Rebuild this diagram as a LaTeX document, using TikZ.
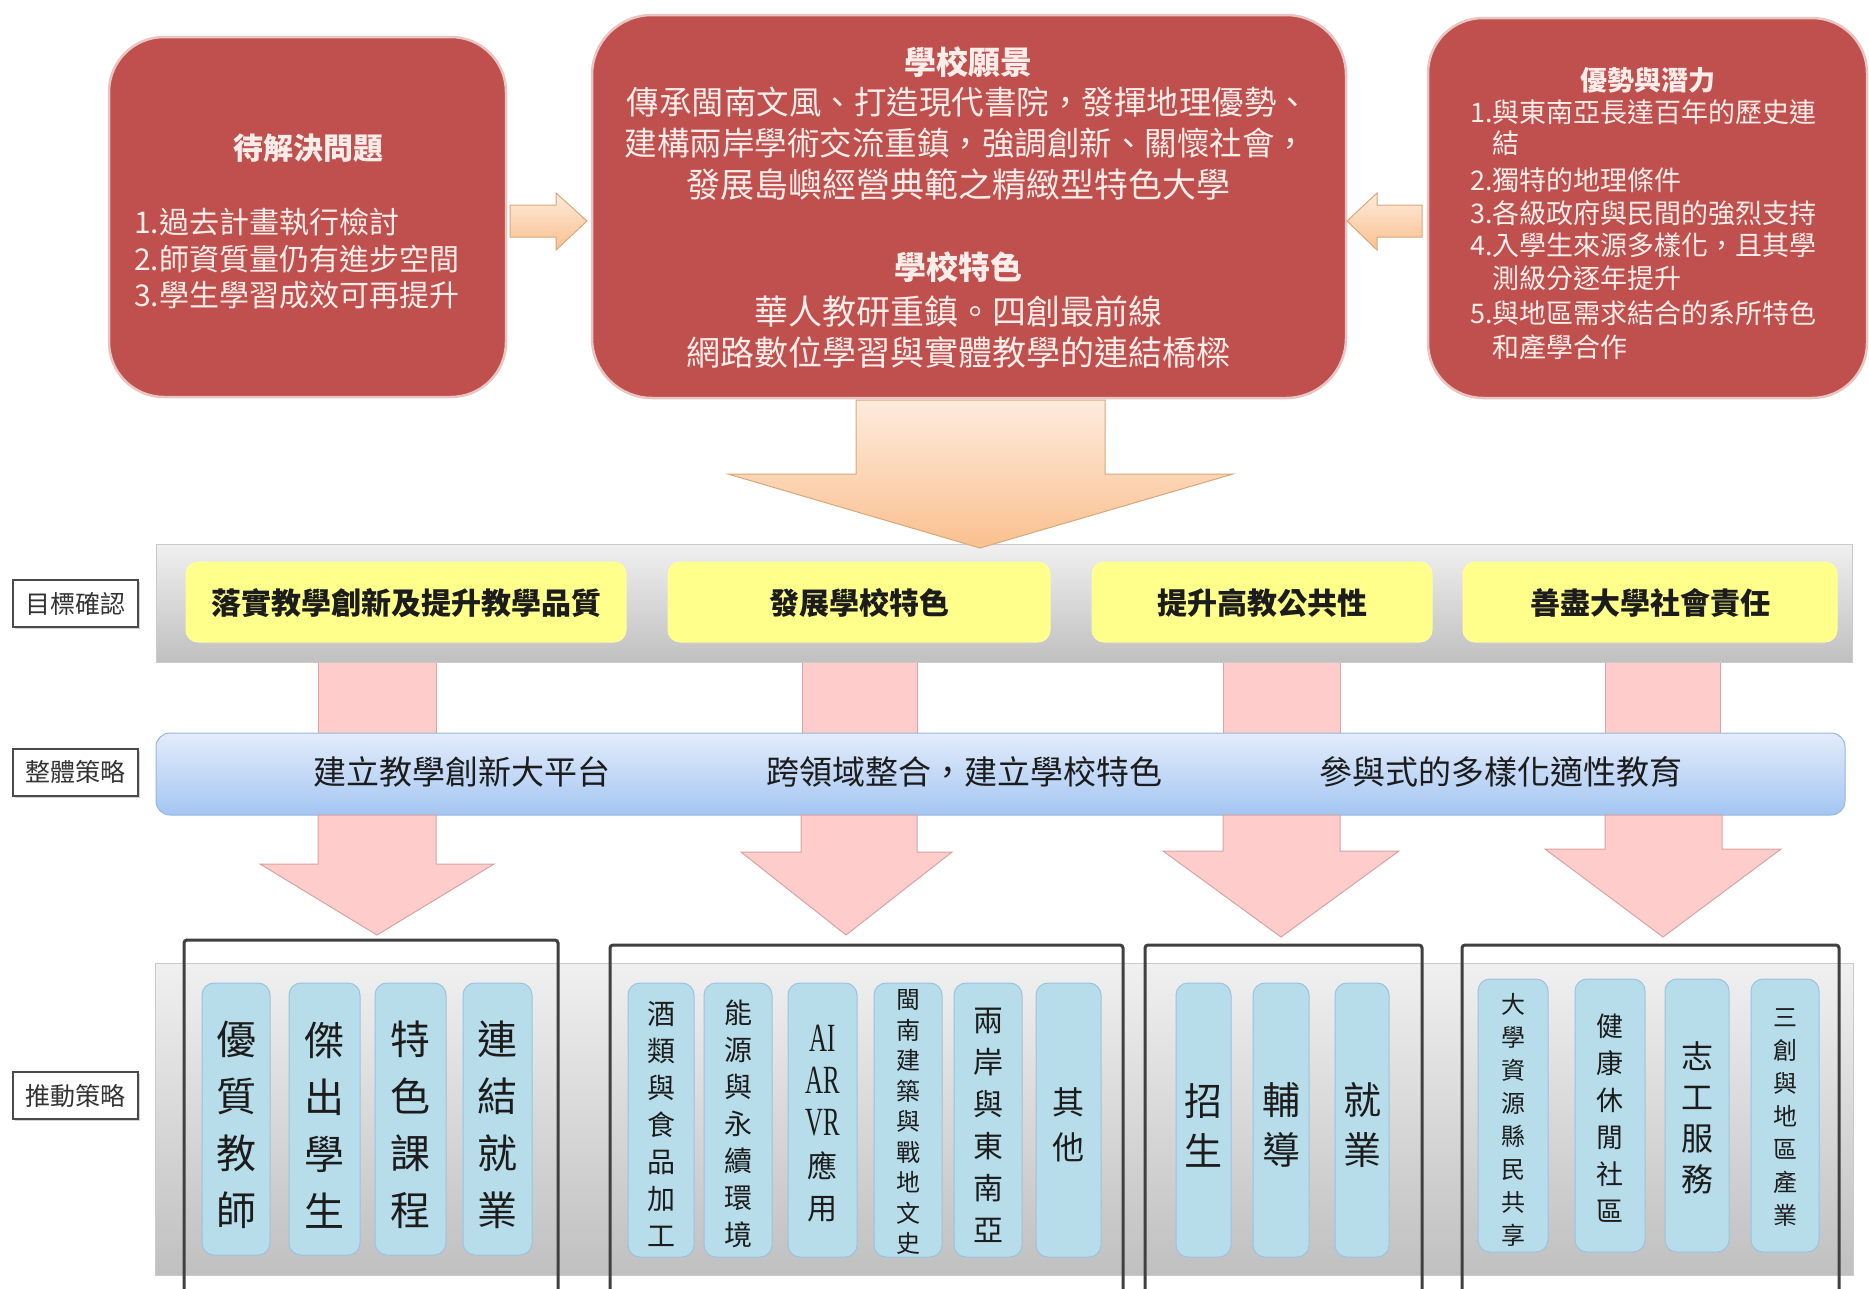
\documentclass[tikz,border=0pt]{standalone}
\usepackage{fontspec}
\setmainfont{Noto Sans CJK TC}
\newfontfamily\latinserif{Liberation Serif}
\usetikzlibrary{shadows}
\definecolor{redfill}{HTML}{C0504D}
\definecolor{redborder}{HTML}{E8C4C2}
\definecolor{redtext}{HTML}{FCEDEA}
\definecolor{orTop}{HTML}{FDEBDD}
\definecolor{orBot}{HTML}{FAC08F}
\definecolor{orBorder}{HTML}{D9A878}
\definecolor{pinkfill}{HTML}{FFCCCC}
\definecolor{pinkborder}{HTML}{D9A3A3}
\definecolor{yel}{HTML}{FFFF8C}
\definecolor{bluTop}{HTML}{E3ECFB}
\definecolor{bluBot}{HTML}{A4C6F2}
\definecolor{bluBorder}{HTML}{94B6E0}
\definecolor{grTop}{HTML}{F0F0F0}
\definecolor{grBot}{HTML}{C0C0C0}
\definecolor{grBorder}{HTML}{CACACA}
\definecolor{pillc}{HTML}{B8DDEA}
\definecolor{pillb}{HTML}{9CC2E2}
\definecolor{framec}{HTML}{404040}
\definecolor{lblborder}{HTML}{4A4A4A}
\definecolor{ink}{HTML}{1C1C1C}
\newcommand\myfs[2]{\fontsize{#1pt}{#2pt}\selectfont}

\begin{document}
\begin{tikzpicture}[x=1pt,y=-1pt,
  redbox/.style={fill=redfill, draw=redborder, line width=2.5pt, rounded corners=55pt},
  redtxt/.style={text=redtext, inner sep=0pt},
  rline/.style={redtxt, anchor=west, font=\myfs{27}{33}},
  orarrow/.style={top color=orTop, bottom color=orBot, draw=orBorder, line width=1pt},
  pinkarrow/.style={fill=pinkfill, draw=pinkborder, line width=1pt},
  grayband/.style={top color=grTop, bottom color=grBot, draw=grBorder, line width=1pt},
  yelbox/.style={fill=yel, draw=yel!85!white, line width=1pt, rounded corners=12pt},
  yeltxt/.style={inner sep=0pt, text=ink, font=\bfseries\myfs{30}{34}},
  bluband/.style={top color=bluTop, bottom color=bluBot, draw=bluBorder, line width=1pt, rounded corners=14pt},
  blutxt/.style={inner sep=0pt, text=ink, font=\myfs{33}{36}},
  lbl/.style={draw=lblborder, line width=2pt, fill=white, minimum width=125pt, minimum height=47pt,
    inner sep=0pt, text=black!80, font=\myfs{25}{28},
    drop shadow={shadow xshift=2pt, shadow yshift=-2pt, opacity=0.35}},
  pill/.style={fill=pillc, draw=pillb, line width=1pt, rounded corners=12pt, inner sep=0pt},
  vt/.style={align=center, inner sep=0pt, text=ink},
  framebox/.style={draw=framec, line width=3pt, rounded corners=3pt}
]
\useasboundingbox (0,0) rectangle (1869,1288);
\clip (0,0) rectangle (1869,1288);
\fill[white] (0,0) rectangle (1869,1288);

% ---------- upper pink shafts (behind bands)
\foreach \a/\b in {318/436, 802/917, 1223/1340, 1605/1720}
  \draw[pinkarrow] (\a,655) rectangle (\b,740);

% ---------- goal band
\draw[grayband] (156,544) rectangle (1852,662);
\draw[yelbox] (186,562) rectangle (626,642);
\draw[yelbox] (668,562) rectangle (1050,642);
\draw[yelbox] (1092,562) rectangle (1432,642);
\draw[yelbox] (1463,562) rectangle (1837,642);
\node[yeltxt] (y1) at (406,603) {落實教學創新及提升教學品質};
\node[yeltxt] (y2) at (859,603) {發展學校特色};
\node[yeltxt] (y3) at (1262,603) {提升高教公共性};
\node[yeltxt] (y4) at (1650,603) {善盡大學社會責任};

% ---------- strategy band
\draw[bluband] (156,733) rectangle (1845,815);
\node[blutxt] (b1) at (462,772) {建立教學創新大平台};
\node[blutxt] (b2) at (964,772) {跨領域整合，建立學校特色};
\node[blutxt] (b3) at (1501,772) {參與式的多樣化適性教育};

% ---------- row labels
\node[lbl] (lab1) at (75.5,603.5) {目標確認};
\node[lbl] (lab2) at (75.5,772) {整體策略};
\node[lbl] (lab3) at (75.5,1095.5) {推動策略};

% ---------- lower pink arrows
\draw[pinkarrow] (318,815)--(436,815)--(436,864)--(494,864)--(377,935)--(260,864)--(318,864)--cycle;
\draw[pinkarrow] (801,815)--(917,815)--(917,852)--(952,852)--(846,935)--(741,852)--(801,852)--cycle;
\draw[pinkarrow] (1223,815)--(1340,815)--(1340,851)--(1399,851)--(1281,937)--(1163,851)--(1223,851)--cycle;
\draw[pinkarrow] (1605,815)--(1722,815)--(1722,849)--(1781,849)--(1663,937)--(1545,849)--(1605,849)--cycle;

% ---------- action band
\draw[grayband] (155,963) rectangle (1853,1275);

% pills group 1
\node[pill, minimum width=68pt, minimum height=272pt] (p11) at (236,1119) {};
\node[pill, minimum width=71pt, minimum height=272pt] (p12) at (324.5,1119) {};
\node[pill, minimum width=71pt, minimum height=272pt] (p13) at (410.5,1119) {};
\node[pill, minimum width=69pt, minimum height=272pt] (p14) at (497.5,1119) {};
\node[vt, font=\myfs{40}{57}] (t11) at (236,1125) {優\\質\\教\\師};
\node[vt, font=\myfs{40}{57}] (t12) at (324.5,1125) {傑\\出\\學\\生};
\node[vt, font=\myfs{40}{57}] (t13) at (410.5,1125) {特\\色\\課\\程};
\node[vt, font=\myfs{40}{57}] (t14) at (497.5,1125) {連\\結\\就\\業};

% pills group 2
\node[pill, minimum width=66pt, minimum height=274pt] (p21) at (661,1120) {};
\node[pill, minimum width=68pt, minimum height=274pt] (p22) at (738,1120) {};
\node[pill, minimum width=69pt, minimum height=274pt] (p23) at (822.5,1120) {};
\node[pill, minimum width=68pt, minimum height=274pt] (p24) at (908,1120) {};
\node[pill, minimum width=68pt, minimum height=274pt] (p25) at (988,1120) {};
\node[pill, minimum width=65pt, minimum height=274pt] (p26) at (1068.5,1120) {};
\node[vt, font=\myfs{28}{37}] (t21) at (661,1124) {酒\\類\\與\\食\\品\\加\\工};
\node[vt, font=\myfs{28}{37}] (t22) at (738,1124) {能\\源\\與\\永\\續\\環\\境};
\node[vt, font=\myfs{30}{42}] (t23) at (822.5,1124) {{\latinserif\fontsize{40pt}{42pt}\selectfont\scalebox{0.62}[1]{AI}}\\{\latinserif\fontsize{40pt}{42pt}\selectfont\scalebox{0.62}[1]{AR}}\\{\latinserif\fontsize{40pt}{42pt}\selectfont\scalebox{0.62}[1]{VR}}\\應\\用};
\node[vt, font=\myfs{24}{30.5}] (t24) at (908,1122) {閩\\南\\建\\築\\與\\戰\\地\\文\\史};
\node[vt, font=\myfs{30}{42}] (t25) at (988,1125) {兩\\岸\\與\\東\\南\\亞};
\node[vt, font=\myfs{32}{45}] (t26) at (1068.5,1125) {其\\他};

% pills group 3
\node[pill, minimum width=55pt, minimum height=274pt] (p31) at (1203.5,1120) {};
\node[pill, minimum width=56pt, minimum height=274pt] (p32) at (1281,1120) {};
\node[pill, minimum width=54pt, minimum height=274pt] (p33) at (1362,1120) {};
\node[vt, font=\myfs{38}{50}] (t31) at (1203.5,1125) {招\\生};
\node[vt, font=\myfs{38}{50}] (t32) at (1281,1125) {輔\\導};
\node[vt, font=\myfs{38}{50}] (t33) at (1362,1125) {就\\業};

% pills group 4
\node[pill, minimum width=70pt, minimum height=273pt] (p41) at (1513,1115.5) {};
\node[pill, minimum width=70pt, minimum height=273pt] (p42) at (1610,1115.5) {};
\node[pill, minimum width=64pt, minimum height=273pt] (p43) at (1697,1115.5) {};
\node[pill, minimum width=68pt, minimum height=273pt] (p44) at (1785,1115.5) {};
\node[vt, font=\myfs{24}{33}] (t41) at (1513,1120) {大\\學\\資\\源\\縣\\民\\共\\享};
\node[vt, font=\myfs{27}{37}] (t42) at (1610,1118) {健\\康\\休\\閒\\社\\區};
\node[vt, font=\myfs{32}{41}] (t43) at (1697,1118) {志\\工\\服\\務};
\node[vt, font=\myfs{24}{33}] (t44) at (1785,1118) {三\\創\\與\\地\\區\\產\\業};

% framed groups
\draw[framebox] (184,940) rectangle (558,1310);
\draw[framebox] (610,945) rectangle (1123,1310);
\draw[framebox] (1145,945) rectangle (1422,1310);
\draw[framebox] (1462,945) rectangle (1839,1310);

% ---------- top red boxes
\draw[redbox] (109,37) rectangle (506,397);
\draw[redbox, rounded corners=60pt] (592,15) rectangle (1346,398);
\draw[redbox] (1428,18) rectangle (1867,398);

% left box text
\node[redtxt, font=\bfseries\myfs{30}{36}] (lt) at (308,148) {待解決問題};
\node[redtxt, anchor=west, align=left, font=\myfs{30}{36.5}] (ll) at (134,259)
  {1.過去計畫執行檢討\\2.師資質量仍有進步空間\\3.學生學習成效可再提升};

% centre box text
\node[redtxt, font=\bfseries\myfs{32}{36}] (c1) at (968,62) {學校願景};
\node[redtxt, font=\myfs{32.5}{36}] (c2) at (968,102) {傳承閩南文風、打造現代書院，發揮地理優勢、};
\node[redtxt, font=\myfs{32.5}{36}] (c3) at (966,143) {建構兩岸學術交流重鎮，強調創新、關懷社會，};
\node[redtxt, font=\myfs{34}{36}] (c4) at (958,185) {發展島嶼經營典範之精緻型特色大學};
\node[redtxt, font=\bfseries\myfs{32}{36}] (c5) at (958,267) {學校特色};
\node[redtxt, font=\myfs{34}{36}] (c6) at (958,312) {華人教研重鎮。四創最前線};
\node[redtxt, font=\myfs{34}{36}] (c7) at (958,352) {網路數位學習與實體教學的連結橋樑};

% right box text
\node[redtxt, font=\bfseries\myfs{27}{33}] (rt) at (1648,80) {優勢與潛力};
\node[rline] (r1) at (1470,112) {1.與東南亞長達百年的歷史連};
\node[rline] (r1b) at (1470,143) {\phantom{1.}結};
\node[rline] (r2) at (1470,180) {2.獨特的地理條件};
\node[rline] (r3) at (1470,213) {3.各級政府與民間的強烈支持};
\node[rline] (r4) at (1470,245) {4.入學生來源多樣化，且其學};
\node[rline] (r4b) at (1470,278) {\phantom{4.}測級分逐年提升};
\node[rline] (r5) at (1470,313) {5.與地區需求結合的系所特色};
\node[rline] (r5b) at (1470,347) {\phantom{5.}和產學合作};

% ---------- orange arrows
\draw[orarrow] (510,205)--(556,205)--(556,193)--(587,221)--(556,250)--(556,237)--(510,237)--cycle;
\draw[orarrow] (1422,205)--(1377,205)--(1377,193)--(1347,221)--(1377,250)--(1377,237)--(1422,237)--cycle;
\draw[orarrow] (856,400)--(1105,400)--(1105,474)--(1233,474)--(980,548)--(728,474)--(856,474)--cycle;
\end{tikzpicture}
\end{document}
